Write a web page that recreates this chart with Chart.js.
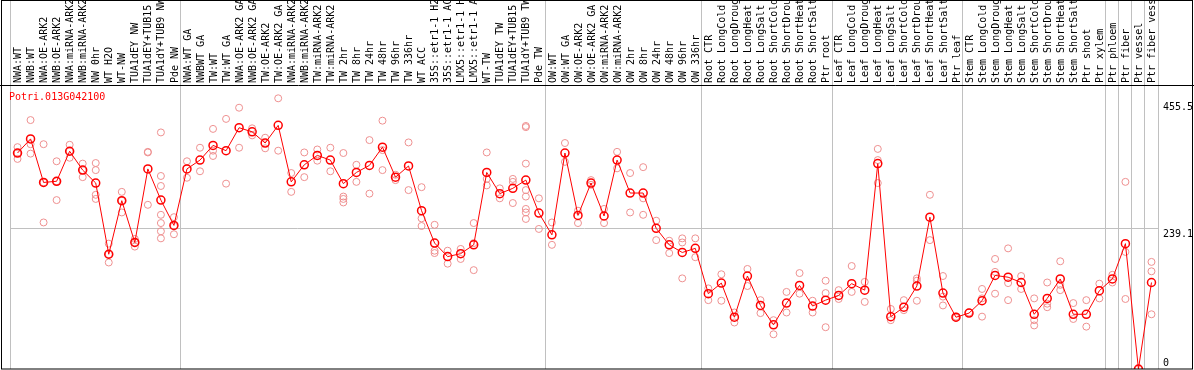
<!DOCTYPE html>
<html>
<head>
<meta charset="utf-8">
<script src="https://cdn.jsdelivr.net/npm/chart.js@4"></script>
<style>
  html, body { margin: 0; padding: 0; background: #fff; }
  canvas { display: block; }
</style>
</head>
<body>
<canvas id="grafico" width="1194" height="370"></canvas>
<script>
const geneId = 'Potri.013G042100';

const categories = [
    'NWA:WT', 'NWB:WT', 'NWA:OE-ARK2', 'NWB:OE-ARK2', 'NWA:miRNA-ARK2', 'NWB:miRNA-ARK2', 'NW 0hr', 'WT H2O', 'WT-NW',
    'TUA1dEY NW', 'TUA1dEY+TUB15 NW', 'TUA1dY+TUB9 NW', 'Pde NW',
    'NWA:WT GA', 'NWBWT GA', 'TW:WT', 'TW:WT GA', 'NWA:OE-ARK2 GA', 'NWB:OE-ARK2 GA', 'TW:OE-ARK2', 'TW:OE-ARK2 GA',
    'NWA:miRNA-ARK2', 'NWB:miRNA-ARK2', 'TW:miRNA-ARK2', 'TW:miRNA-ARK2', 'TW 2hr', 'TW 8hr', 'TW 24hr', 'TW 48hr',
    'TW 96hr', 'TW 336hr', 'WT ACC', '35S::etr1-1 H2O', '35S::etr1-1 ACC', 'LMX5::etr1-1 H2O', 'LMX5::etr1-1 ACC',
    'WT-TW', 'TUA1dEY TW', 'TUA1dEY+TUB15 TW', 'TUA1dY+TUB9 TW', 'Pde TW',
    'OW:WT', 'OW:WT GA', 'OW:OE-ARK2', 'OW:OE-ARK2 GA', 'OW:miRNA-ARK2', 'OW:miRNA-ARK2', 'OW 2hr', 'OW 8hr',
    'OW 24hr', 'OW 48hr', 'OW 96hr', 'OW 336hr',
    'Root CTR', 'Root LongCold', 'Root LongDrought', 'Root LongHeat', 'Root LongSalt', 'Root ShortCold',
    'Root ShortDrought', 'Root ShortHeat', 'Root ShortSalt', 'Ptr root',
    'Leaf CTR', 'Leaf LongCold', 'Leaf LongDrought', 'Leaf LongHeat', 'Leaf LongSalt', 'Leaf ShortCold',
    'Leaf ShortDrought', 'Leaf ShortHeat', 'Leaf ShortSalt', 'Ptr leaf',
    'Stem CTR', 'Stem LongCold', 'Stem LongDrought', 'Stem LongHeat', 'Stem LongSalt', 'Stem ShortCold',
    'Stem ShortDrought', 'Stem ShortHeat', 'Stem ShortSalt', 'Ptr shoot', 'Ptr xylem',
    'Ptr phloem', 'Ptr fiber', 'Ptr vessel', 'Ptr fiber vessel'
];

// first category of each block (gray separators)
const separadores = [0, 13, 41, 53, 63, 73, 84, 85, 86, 87];

const medias = [
    367, 391, 317, 319, 370, 338, 316, 195, 286, 215, 340, 287, 244,
    340, 355, 380, 371, 410, 403, 384, 414, 318, 347, 363, 355, 315, 334, 346, 377,
    326, 345, 269, 214, 191, 196, 211, 334, 298, 307, 321, 265,
    228, 367, 261, 316, 260, 355, 299, 299, 239, 211, 198, 205,
    128, 146, 88, 158, 108, 75, 112, 142, 107, 117,
    125, 145, 134, 349, 89, 105, 141, 258, 129, 88,
    95, 116, 159, 156, 147, 93, 120, 153, 93, 93, 133,
    153, 213, 0, 147
];

const replicas = [
    [377, 357, 367], [423, 382, 366], [382, 317, 249], [353, 319, 287], [381, 370, 359], [349, 338, 326],
    [350, 338, 296, 289], [213, 195, 181], [301, 286, 266], [221, 215, 208], [369, 368, 279],
    [402, 328, 311, 262, 248, 234, 222], [258, 243, 229],
    [353, 325], [376, 336], [408, 371, 362], [425, 315], [444, 376], [409, 397], [393, 375], [460, 371],
    [333, 301], [368, 326], [373, 354], [376, 336], [367, 293, 283, 289], [347, 318], [389, 298],
    [422, 338, 372], [330, 321], [385, 304], [309, 256, 243], [245, 201, 197], [201, 179], [204, 187],
    [248, 214, 168], [368, 323, 312], [307, 290], [323, 318, 282],
    [413, 411, 349, 304, 293, 272, 266, 255], [290, 238],
    [249, 211], [384, 352], [269, 248], [321, 313], [272, 248], [369, 341], [333, 266], [343, 290, 262],
    [252, 219], [218, 197], [222, 215, 154], [222, 190],
    [137, 117], [161, 116], [96, 79], [170, 141], [117, 95], [83, 59], [131, 96], [163, 128], [116, 96],
    [150, 129, 71],
    [134, 119], [175, 131], [148, 114], [374, 355, 316], [102, 83], [117, 100], [154, 150, 116], [296, 219],
    [158, 123, 108], [89, 87],
    [96], [136, 120, 89], [187, 165, 128], [205, 146, 117], [158, 136], [120, 83, 74], [147, 111, 105],
    [183, 143, 134], [112, 85], [117, 72], [145, 120],
    [160, 147], [318, 199, 119], [0], [182, 166, 93]
];

const marcasY = [0, 239.1, 455.5];

const maxReplicas = Math.max(...replicas.map(r => r.length));
const datasetsReplicas = [];
for (let k = 0; k < maxReplicas; k++) {
    datasetsReplicas.push({
        label: 'rep ' + (k + 1),
        data: replicas.map(r => (r.length > k ? r[k] : null)),
        showLine: false,
        clip: 0,
        pointRadius: 3.5,
        pointBorderWidth: 1,
        pointBorderColor: '#ee9090',
        pointBackgroundColor: 'transparent'
    });
}

const fonte = { family: '"DejaVu Sans Mono", monospace', size: 10 };
const cinza = '#c0c0c0';

const moldura = {
    id: 'moldura',
    afterDraw(chart) {
        const { ctx, chartArea } = chart;
        ctx.save();
        ctx.strokeStyle = '#000';
        ctx.lineWidth = 1;
        ctx.strokeRect(1.5, 0.5, chart.width - 3, chart.height - 1.5);
        ctx.beginPath();
        ctx.moveTo(0, chartArea.top + 0.5);
        ctx.lineTo(chart.width, chartArea.top + 0.5);
        ctx.stroke();
        ctx.fillStyle = '#ff0000';
        ctx.font = '10px "DejaVu Sans Mono", monospace';
        ctx.textBaseline = 'middle';
        ctx.fillText(geneId, 9, chartArea.top + 12);
        ctx.restore();
    }
};

const grafico = new Chart(document.getElementById('grafico'), {
    type: 'line',
    data: {
        labels: categories,
        datasets: [{
            label: geneId,
            data: medias,
            clip: 0,
            borderColor: '#ff0000',
            borderWidth: 1,
            pointRadius: 4,
            pointBorderWidth: 1.5,
            pointBorderColor: '#ff0000',
            pointBackgroundColor: 'transparent',
            tension: 0
        }, ...datasetsReplicas]
    },
    options: {
        responsive: false,
        devicePixelRatio: 1,
        animation: false,
        layout: { autoPadding: false, padding: { left: 11, right: 0, top: 0, bottom: 1 } },
        plugins: { legend: { display: false }, tooltip: { enabled: false } },
        scales: {
            x: {
                type: 'category',
                position: 'top',
                offset: true,
                border: { display: false },
                grid: {
                    offset: true,
                    tickLength: 85,
                    color: (c) => (c.index === undefined || separadores.includes(c.index) ? cinza : 'transparent')
                },
                ticks: {
                    autoSkip: false,
                    minRotation: 90,
                    maxRotation: 90,
                    padding: -83,
                    labelOffset: 13,
                    color: '#000',
                    font: fonte
                },
                afterFit(s) {
                    s.height = 85;
                    s.paddingLeft = 0;
                    s.paddingRight = 0;
                }
            },
            y: {
                position: 'right',
                min: 0,
                max: 482.6,
                border: { display: false },
                grid: {
                    drawTicks: false,
                    color: (c) => (c.tick && c.tick.value === 239.1 ? cinza : 'transparent')
                },
                afterBuildTicks(s) { s.ticks = marcasY.map(v => ({ value: v })); },
                ticks: {
                    padding: 5,
                    color: '#000',
                    font: fonte,
                    callback: (v) => (v === 0 ? ['0', ''] : ['', String(v)])
                },
                afterFit(s) {
                    s.width = 36;
                    s.paddingTop = 0;
                    s.paddingBottom = 0;
                }
            }
        }
    },
    plugins: [moldura]
});
</script>
</body>
</html>
